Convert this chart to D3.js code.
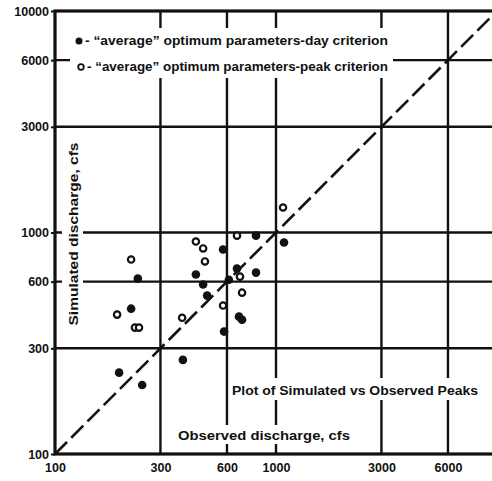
<!DOCTYPE html>
<html>
<head>
<meta charset="utf-8">
<script src="https://cdn.jsdelivr.net/npm/d3@7"></script>
<style>
  html, body { margin: 0; padding: 0; background: #fff; }
  svg text { font-family: "Liberation Sans", Arial, sans-serif; font-weight: bold; fill: #111; }
</style>
</head>
<body>
<svg id="chart" width="492" height="481"></svg>
<script>
// Observed vs simulated peak discharge (cfs), log-log
const dayObserved  = [237, 221, 195, 248, 379, 434, 468, 488, 576, 582, 812, 1087, 666, 812, 612, 680, 702];
const daySimulated = [619, 453, 233, 205, 266, 646, 582, 519, 838, 357, 968, 901, 687, 659, 612, 417, 404];
const peakObserved  = [221, 191, 230, 240, 376, 434, 468, 477, 576, 666, 1076, 687, 702];
const peakSimulated = [755, 426, 372, 372, 412, 910, 847, 740, 468, 968, 1297, 632, 535];

const gridValues = [300, 600, 1000, 3000, 6000];
const xTickValues = [100, 300, 600, 1000, 3000, 6000];
const yTickValues = [100, 300, 600, 1000, 3000, 6000, 10000];
const tickLabel = d => String(d);

const legendLabels = [
  "- \u201Caverage\u201D optimum parameters-day criterion",
  "- \u201Caverage\u201D optimum parameters-peak criterion"
];
const xTitle = "Observed discharge, cfs";
const yTitle = "Simulated discharge, cfs";
const plotTitle = "Plot of Simulated vs Observed Peaks";

const svg = d3.select("#chart");
const x = d3.scaleLog().domain([100, 10000]).range([55, 497]);
const y = d3.scaleLog().domain([100, 10000]).range([454, 11]);
const ink = "#111";

// grid
const grid = svg.append("g").attr("stroke", ink).attr("stroke-width", 2.4);
grid.selectAll("line.v").data(gridValues).join("line")
  .attr("x1", d => x(d)).attr("x2", d => x(d))
  .attr("y1", y(10000)).attr("y2", y(100));
grid.selectAll("line.h").data(gridValues).join("line")
  .attr("y1", d => y(d)).attr("y2", d => y(d))
  .attr("x1", x(100)).attr("x2", x(10000));

// 1:1 line
svg.append("line")
  .attr("x1", x(100)).attr("y1", y(100))
  .attr("x2", x(10000)).attr("y2", y(10000))
  .attr("stroke", ink).attr("stroke-width", 2.6)
  .attr("stroke-dasharray", "17,6");

// white patches where the grid gives way to lettering
function clearBox(x0, y0, w, h) {
  svg.append("rect").attr("x", x0).attr("y", y0).attr("width", w).attr("height", h).attr("fill", "#fff");
}
clearBox(70, 28, 323, 50);     // legend
clearBox(62, 140, 21, 188);    // y title
clearBox(176, 425, 178, 19);   // x title
clearBox(230, 378, 252, 22);   // plot title

// frame
svg.append("rect")
  .attr("x", x(100)).attr("y", y(10000))
  .attr("width", x(10000) - x(100)).attr("height", y(100) - y(10000))
  .attr("fill", "none").attr("stroke", ink).attr("stroke-width", 3.2);

// axes
const yAxis = svg.append("g").attr("transform", `translate(${x(100)},0)`)
  .call(d3.axisLeft(y).tickValues(yTickValues).tickFormat(tickLabel).tickSize(4).tickPadding(2));
const xAxis = svg.append("g").attr("transform", `translate(0,${y(100)})`)
  .call(d3.axisBottom(x).tickValues(xTickValues).tickFormat(tickLabel).tickSize(0).tickPadding(9));
[xAxis, yAxis].forEach(g => {
  g.select(".domain").remove();
  g.selectAll("line").attr("stroke", ink).attr("stroke-width", 2);
  g.selectAll("text").attr("font-size", 12.5).attr("fill", ink)
    .style("font-family", "'Liberation Sans', Arial, sans-serif").style("font-weight", "bold");
});

// points
svg.append("g").selectAll("circle").data(dayObserved.map((d, i) => [d, daySimulated[i]])).join("circle")
  .attr("cx", d => x(d[0])).attr("cy", d => y(d[1])).attr("r", 4.3).attr("fill", ink);
svg.append("g").selectAll("circle").data(peakObserved.map((d, i) => [d, peakSimulated[i]])).join("circle")
  .attr("cx", d => x(d[0])).attr("cy", d => y(d[1])).attr("r", 3.2)
  .attr("fill", "#fff").attr("stroke", ink).attr("stroke-width", 2.2);

// legend
svg.append("circle").attr("cx", 79).attr("cy", 41).attr("r", 3.5).attr("fill", ink);
svg.append("circle").attr("cx", 81).attr("cy", 67).attr("r", 2.8).attr("fill", "#fff").attr("stroke", ink).attr("stroke-width", 1.8);
svg.append("text").attr("x", 85).attr("y", 45).attr("font-size", 12)
  .attr("textLength", 303).attr("lengthAdjust", "spacingAndGlyphs").text(legendLabels[0]);
svg.append("text").attr("x", 87).attr("y", 71).attr("font-size", 12)
  .attr("textLength", 301).attr("lengthAdjust", "spacingAndGlyphs").text(legendLabels[1]);

// titles
svg.append("text").attr("x", 264).attr("y", 440).attr("text-anchor", "middle").attr("font-size", 12)
  .attr("textLength", 172).attr("lengthAdjust", "spacingAndGlyphs").text(xTitle);
svg.append("text").attr("transform", "translate(78,234) rotate(-90)").attr("text-anchor", "middle").attr("font-size", 12)
  .attr("textLength", 183).attr("lengthAdjust", "spacingAndGlyphs").text(yTitle);
svg.append("text").attr("x", 355).attr("y", 395).attr("text-anchor", "middle").attr("font-size", 13)
  .attr("textLength", 246).attr("lengthAdjust", "spacingAndGlyphs").text(plotTitle);
</script>
</body>
</html>
